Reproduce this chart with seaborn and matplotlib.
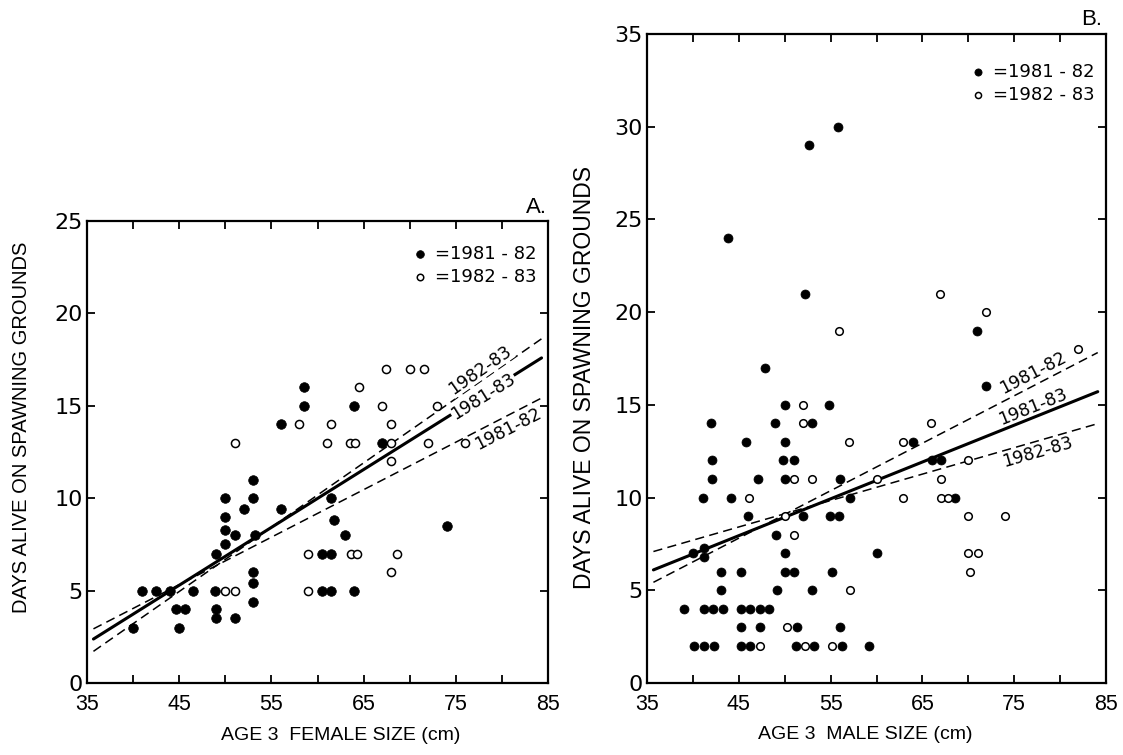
import numpy as np
import matplotlib
matplotlib.use('Agg')
import matplotlib.pyplot as plt
import seaborn as sns
from matplotlib.ticker import FixedLocator, MultipleLocator

# --- Panel A: age 3 females ---
A_F81_X = [40, 41, 42.5, 44, 44.6, 45.6, 45, 46.5, 48.9, 49, 49, 51, 49, 50, 50, 50, 50, 51, 52, 53,
           53, 53, 53, 53, 53.2, 56, 56, 58.5, 58.5, 60.5, 61.5, 60.5, 61.5, 61.5, 61.8, 63, 64, 64, 67, 74]
A_F81_Y = [3, 5, 5, 5, 4, 4, 3, 5, 5, 4, 3.5, 3.5, 7, 7.5, 8.3, 9, 10, 8, 9.4, 11,
           10, 6, 5.4, 4.4, 8, 9.4, 14, 16, 15, 7, 7, 5, 5, 10, 8.8, 8, 5, 15, 13, 8.5]
A_O82_X = [50, 51, 51, 58, 59, 59, 61, 61.5, 63.5, 64.1, 63.6, 64.3, 64.5, 67, 67.4, 68, 68, 68,
           68.6, 68, 70, 71.5, 72, 73, 76]
A_O82_Y = [5, 5, 13, 14, 7, 5, 13, 14, 13, 13, 7, 7, 16, 15, 17, 14, 13, 12,
           7, 6, 17, 17, 13, 15, 13]

# regression lines: value at 35 cm and slope
A_FIT_NAMES = ['1981-83', '1982-83', '1981-82']
A_FIT_Y35 = [2.16, 1.47, 2.75]
A_FIT_SLOPE = [0.313, 0.348, 0.257]
A_FIT_XRANGE = [35.7, 84.3]
A_LABEL_X = [78.0, 77.6, 80.7]
A_LABEL_Y = [15.5, 16.95, 13.75]

# --- Panel B: age 3 males ---
B_F81_X = [43.8, 52.6, 55.8, 52.2, 70.9, 71.9, 47.9, 50, 54.8, 42, 48.9, 53, 45.8, 50, 64, 42.1, 49.8,
           51, 66, 67, 42.1, 47.1, 50, 56, 41.1, 44.1, 57.1, 68.5, 46, 52, 54.9, 55.9, 49.1, 40, 41.2,
           41.2, 50, 60, 43.1, 45.2, 50, 51, 55.1, 43.1, 49.2, 53, 39, 41.2, 42.2, 43.3, 45.2, 46.2,
           47.3, 48.3, 45.2, 47.3, 51.3, 56, 40.1, 41.2, 42.3, 45.2, 46.2, 51.2, 53.2, 56.2, 59.2]
B_F81_Y = [24, 29, 30, 21, 19, 16, 17, 15, 15, 14, 14, 14, 13, 13, 13, 12, 12,
           12, 12, 12, 11, 11, 11, 11, 10, 10, 10, 10, 9, 9, 9, 9, 8, 7, 7.3,
           6.8, 7, 7, 6, 6, 6, 6, 6, 5, 5, 5, 4, 4, 4, 4, 4, 4,
           4, 4, 3, 3, 3, 3, 2, 2, 2, 2, 2, 2, 2, 2, 2]
B_O82_X = [55.9, 66.9, 71.9, 82, 52, 52, 57, 62.9, 65.9, 70, 51, 53, 60, 67, 46.1, 62.9, 67, 67.8,
           50, 70, 74, 51, 70, 71.1, 70.2, 57.1, 50.2, 47.3, 52.2, 55.1]
B_O82_Y = [19, 21, 20, 18, 15, 14, 13, 13, 14, 12, 11, 11, 11, 11, 10, 10, 10, 10,
           9, 9, 9, 8, 7, 7, 6, 5, 3, 2, 2, 2]

B_FIT_NAMES = ['1981-83', '1981-82', '1982-83']
B_FIT_Y35 = [5.96, 5.25, 6.99]
B_FIT_SLOPE = [0.1986, 0.256, 0.1425]
B_FIT_XRANGE = [35.7, 84.1]
B_LABEL_X = [77.0, 77.0, 77.5]
B_LABEL_Y = [14.9, 16.7, 12.45]

X_LABELED_TICKS = [35, 45, 55, 65, 75, 85]
LEGEND_LABELS = ['=1981 - 82', '=1982 - 83']

sns.set_style('ticks')
plt.rcParams['font.family'] = ['Liberation Sans', 'DejaVu Sans']
plt.rcParams.update({'text.color': 'black', 'axes.labelcolor': 'black',
                     'xtick.color': 'black', 'ytick.color': 'black'})

fig = plt.figure(figsize=(11.23, 7.55), dpi=100)
ax_a = fig.add_axes([87 / 1123, 72 / 755, 461 / 1123, 462 / 755])
ax_b = fig.add_axes([647 / 1123, 72 / 755, 459 / 1123, 649 / 755])


def draw_panel(ax, fx, fy, ox, oy, names, y35, slopes, xr, lx, ly, ymax, label_box, fsize, osize):
    for name, a, b, tx, ty in zip(names, y35, slopes, lx, ly):
        xs = np.array(xr)
        ys = a + b * (xs - 35)
        style = '-' if name == '1981-83' else (0, (6, 3.5))
        lw = 2.2 if name == '1981-83' else 1.1
        sns.lineplot(x=xs, y=ys, ax=ax, color='black', linewidth=lw, linestyle=style, zorder=2)
        kw = dict(bbox=dict(facecolor='white', edgecolor='none', pad=0.5)) if label_box else {}
        ax.text(tx, ty, name, fontsize=12.5, family='DejaVu Sans', ha='center', va='center',
                rotation=np.degrees(np.arctan(b)), transform_rotates_text=True,
                rotation_mode='anchor', zorder=4, **kw)
    sns.scatterplot(x=fx, y=fy, ax=ax, s=fsize, color='black', edgecolor='black',
                    linewidth=0.5, label=LEGEND_LABELS[0], zorder=3)
    sns.scatterplot(x=ox, y=oy, ax=ax, s=osize, color='white', edgecolor='black',
                    linewidth=1.1, label=LEGEND_LABELS[1], zorder=3)
    ax.set_xlim(35, 85)
    ax.set_ylim(0, ymax)
    ax.xaxis.set_major_locator(FixedLocator(X_LABELED_TICKS))
    ax.xaxis.set_minor_locator(MultipleLocator(5))
    ax.yaxis.set_major_locator(MultipleLocator(5))
    ax.tick_params(which='both', direction='in', top=True, right=True, length=6, width=1.3,
                   color='black')
    ax.tick_params(axis='y', labelsize=16, pad=3)
    ax.tick_params(axis='x', labelsize=15.5, pad=8)
    for t in ax.get_yticklabels():
        t.set_family('DejaVu Sans')
    for sp in ax.spines.values():
        sp.set_linewidth(1.6)
        sp.set_color('black')


draw_panel(ax_a, A_F81_X, A_F81_Y, A_O82_X, A_O82_Y, A_FIT_NAMES, A_FIT_Y35, A_FIT_SLOPE,
           A_FIT_XRANGE, A_LABEL_X, A_LABEL_Y, 25, True, 48, 34)
draw_panel(ax_b, B_F81_X, B_F81_Y, B_O82_X, B_O82_Y, B_FIT_NAMES, B_FIT_Y35, B_FIT_SLOPE,
           B_FIT_XRANGE, B_LABEL_X, B_LABEL_Y, 35, False, 42, 30)

legend_kw = dict(loc='upper right', frameon=False, handlelength=1.0, handletextpad=0.3,
                 labelspacing=0.3, borderaxespad=0.25, markerscale=0.8,
                 prop={'family': 'DejaVu Sans', 'size': 13})
ax_a.legend(bbox_to_anchor=(1.0, 1 - 12 / 462), **legend_kw)
ax_b.legend(bbox_to_anchor=(1.0, 1 - 17 / 649), **legend_kw)

ax_a.set_ylabel('DAYS ALIVE ON SPAWNING GROUNDS', fontsize=14.5, ha='center', va='center')
ax_a.yaxis.set_label_coords(-0.143, 0.554)
ax_b.set_ylabel('DAYS ALIVE ON SPAWNING GROUNDS', fontsize=16.5, ha='center', va='center')
ax_b.yaxis.set_label_coords(-0.137, 0.47)

ax_a.set_xlabel('AGE 3  FEMALE SIZE (cm)', fontsize=14, va='center')
ax_a.xaxis.set_label_coords(0.551, -0.113)
ax_b.set_xlabel('AGE 3  MALE SIZE (cm)', fontsize=14, va='center')
ax_b.xaxis.set_label_coords(0.475, -0.080)

ax_a.text(0.976, 1.03, 'A.', transform=ax_a.transAxes, fontsize=16, ha='center', va='center')
ax_b.text(0.969, 1.022, 'B.', transform=ax_b.transAxes, fontsize=16, ha='center', va='center')

fig.savefig('out.png', dpi=100)
